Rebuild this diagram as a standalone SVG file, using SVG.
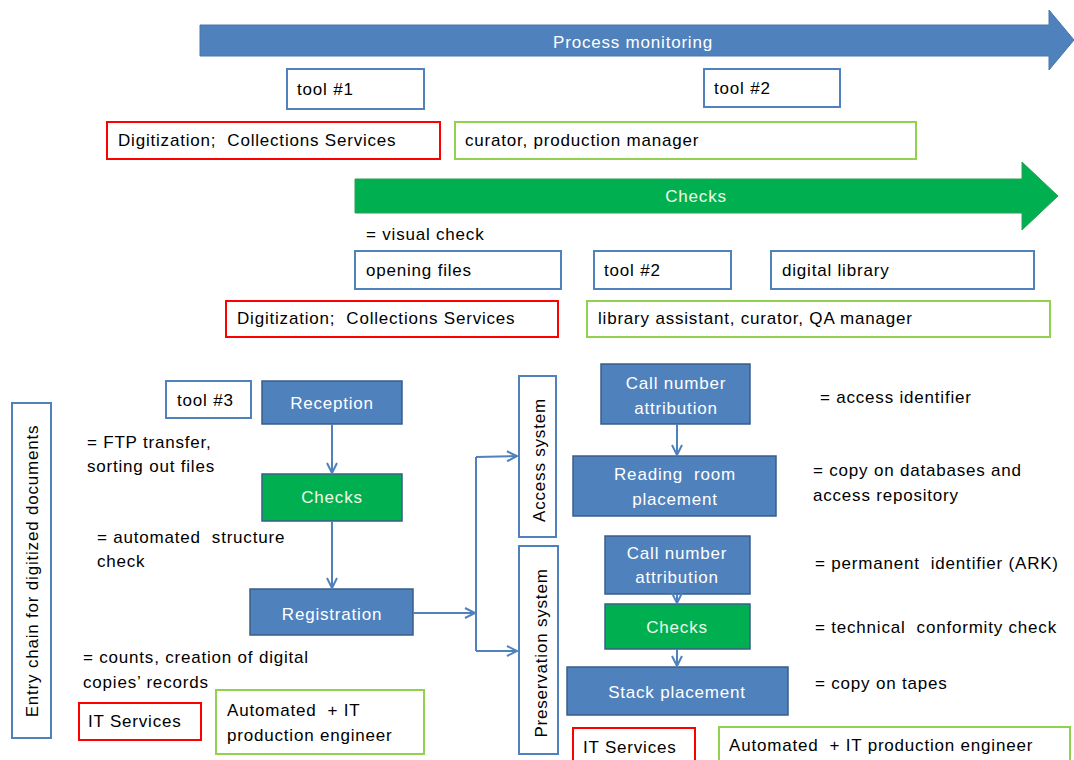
<svg xmlns="http://www.w3.org/2000/svg" width="1074" height="760" viewBox="0 0 1074 760" xml:space="preserve">
<defs>
<style>
.t{font-family:"Liberation Sans",Arial,sans-serif;font-size:17px;letter-spacing:0.8px;fill:#000;white-space:pre}
.w{fill:#fff;text-anchor:middle}
.g{fill:#eefbe8;text-anchor:middle}
.bfill{fill:#4F81BD;stroke:#385D8A;stroke-width:1.5}
.gfill{fill:#00B050;stroke:#385D8A;stroke-width:1.5}
.ob{fill:#fff;stroke:#4F81BD;stroke-width:2}
.or{fill:#fff;stroke:#FF0000;stroke-width:2}
.og{fill:#fff;stroke:#92D050;stroke-width:2}
.bar{fill:#4F81BD;stroke:#4A76A8;stroke-width:1}
.gbar{fill:#00B050;stroke:#2E9E55;stroke-width:1}
.c{fill:none;stroke:#4F81BD;stroke-width:2;marker-end:url(#ah)}
.l{fill:none;stroke:#4F81BD;stroke-width:2}
</style>
<marker id="ah" markerUnits="userSpaceOnUse" markerWidth="14" markerHeight="14" refX="11" refY="6" orient="auto">
<path d="M1,1 L11,6 L1,11" fill="none" stroke="#4F81BD" stroke-width="2"/>
</marker>
</defs>
<rect width="1074" height="760" fill="#fff"/>

<g id="process-monitoring">
<polygon class="bar" points="200,25 1049,25 1049,10 1074,40 1049,70 1049,56 200,56"/>
<text class="t w" x="633" y="48">Process monitoring</text>
</g>
<g id="tool1"><rect class="ob" x="287" y="69" width="137" height="40"/><text class="t" x="297" y="95">tool #1</text></g>
<g id="tool2-top"><rect class="ob" x="704" y="69" width="136" height="38"/><text class="t" x="714" y="94">tool #2</text></g>
<g id="digitization-1"><rect class="or" x="107" y="122" width="333" height="37"/><text class="t" x="118" y="146">Digitization;  Collections Services</text></g>
<g id="curator-1"><rect class="og" x="455" y="122" width="461" height="37"/><text class="t" x="465" y="146">curator, production manager</text></g>

<g id="checks-bar">
<polygon class="gbar" points="355,179 1022,179 1022,162 1058,196 1022,230 1022,213 355,213"/>
<text class="t g" x="696" y="202">Checks</text>
</g>
<g id="visual-check"><text class="t" x="366" y="240">= visual check</text></g>
<g id="opening-files"><rect class="ob" x="355" y="251" width="206" height="38"/><text class="t" x="366" y="276">opening files</text></g>
<g id="tool2-mid"><rect class="ob" x="594" y="251" width="137" height="38"/><text class="t" x="604" y="276">tool #2</text></g>
<g id="digital-library"><rect class="ob" x="771" y="251" width="263" height="38"/><text class="t" x="782" y="276">digital library</text></g>
<g id="digitization-2"><rect class="or" x="226" y="301" width="332" height="36"/><text class="t" x="237" y="324">Digitization;  Collections Services</text></g>
<g id="library-assistant"><rect class="og" x="587" y="301" width="463" height="36"/><text class="t" x="598" y="324">library assistant, curator, QA manager</text></g>

<g id="entry-chain"><rect class="ob" x="12" y="403" width="39" height="335"/><text class="t" transform="translate(38,571) rotate(-90)" text-anchor="middle">Entry chain for digitized documents</text></g>
<g id="tool3"><rect class="ob" x="166" y="381" width="85" height="37"/><text class="t" x="177" y="406">tool #3</text></g>
<g id="reception"><rect class="bfill" x="262" y="381" width="140" height="43"/><text class="t w" x="332" y="409">Reception</text></g>
<g id="ftp-note"><text class="t" x="87" y="448">= FTP transfer,</text><text class="t" x="87" y="472">sorting out files</text></g>
<g id="checks-1"><rect class="gfill" x="262" y="474" width="140" height="47"/><text class="t g" x="332" y="503">Checks</text></g>
<g id="structure-note"><text class="t" x="97" y="543">= automated  structure</text><text class="t" x="97" y="567">check</text></g>
<g id="registration"><rect class="bfill" x="250" y="589" width="163" height="46"/><text class="t w" x="332" y="620">Registration</text></g>
<g id="counts-note"><text class="t" x="83" y="663">= counts, creation of digital</text><text class="t" x="83" y="688">copies’ records</text></g>
<g id="it-services-1"><rect class="or" x="79" y="703" width="122" height="37"/><text class="t" x="88" y="727">IT Services</text></g>
<g id="automated-1"><rect class="og" x="216" y="690" width="208" height="64"/><text class="t" x="227" y="716">Automated  + IT</text><text class="t" x="227" y="741">production engineer</text></g>

<g id="access-system"><rect class="ob" x="519" y="376" width="37" height="161"/><text class="t" transform="translate(545,460) rotate(-90)" text-anchor="middle">Access system</text></g>
<g id="preservation-system"><rect class="ob" x="519" y="546" width="39" height="208"/><text class="t" transform="translate(547,653) rotate(-90)" text-anchor="middle">Preservation system</text></g>

<g id="call-number-1"><rect class="bfill" x="601" y="364" width="149" height="60"/><text class="t w" x="676" y="389">Call number</text><text class="t w" x="676" y="414">attribution</text></g>
<g id="reading-room"><rect class="bfill" x="573" y="456" width="203" height="60"/><text class="t w" x="675" y="480">Reading  room</text><text class="t w" x="675" y="505">placement</text></g>
<g id="call-number-2"><rect class="bfill" x="605" y="536" width="145" height="58"/><text class="t w" x="677" y="559">Call number</text><text class="t w" x="677" y="583">attribution</text></g>
<g id="checks-2"><rect class="gfill" x="605" y="604" width="145" height="45"/><text class="t g" x="677" y="633">Checks</text></g>
<g id="stack-placement"><rect class="bfill" x="567" y="667" width="221" height="48"/><text class="t w" x="677" y="698">Stack placement</text></g>
<g id="it-services-2"><rect class="or" x="573" y="728" width="122" height="40"/><text class="t" x="583" y="753">IT Services</text></g>
<g id="automated-2"><rect class="og" x="719" y="727" width="351" height="40"/><text class="t" x="729" y="751">Automated  + IT production engineer</text></g>

<g id="notes-right">
<text class="t" x="820" y="403">= access identifier</text>
<text class="t" x="813" y="476">= copy on databases and</text>
<text class="t" x="813" y="501">access repository</text>
<text class="t" x="815" y="569">= permanent  identifier (ARK)</text>
<text class="t" x="815" y="633">= technical  conformity check</text>
<text class="t" x="815" y="689">= copy on tapes</text>
</g>

<g id="connectors">
<line class="c" x1="332" y1="424" x2="332" y2="473"/>
<line class="c" x1="332" y1="521" x2="332" y2="588"/>
<line class="c" x1="413" y1="613" x2="475" y2="613"/>
<polyline class="l" points="476,457 476,651"/>
<line class="c" x1="476" y1="457" x2="517" y2="456"/>
<line class="c" x1="476" y1="651" x2="517" y2="651"/>
<line class="c" x1="677" y1="424" x2="677" y2="455"/>
<line class="c" x1="677" y1="594" x2="677" y2="603"/>
<line class="c" x1="677" y1="649" x2="677" y2="666"/>
</g>
</svg>
